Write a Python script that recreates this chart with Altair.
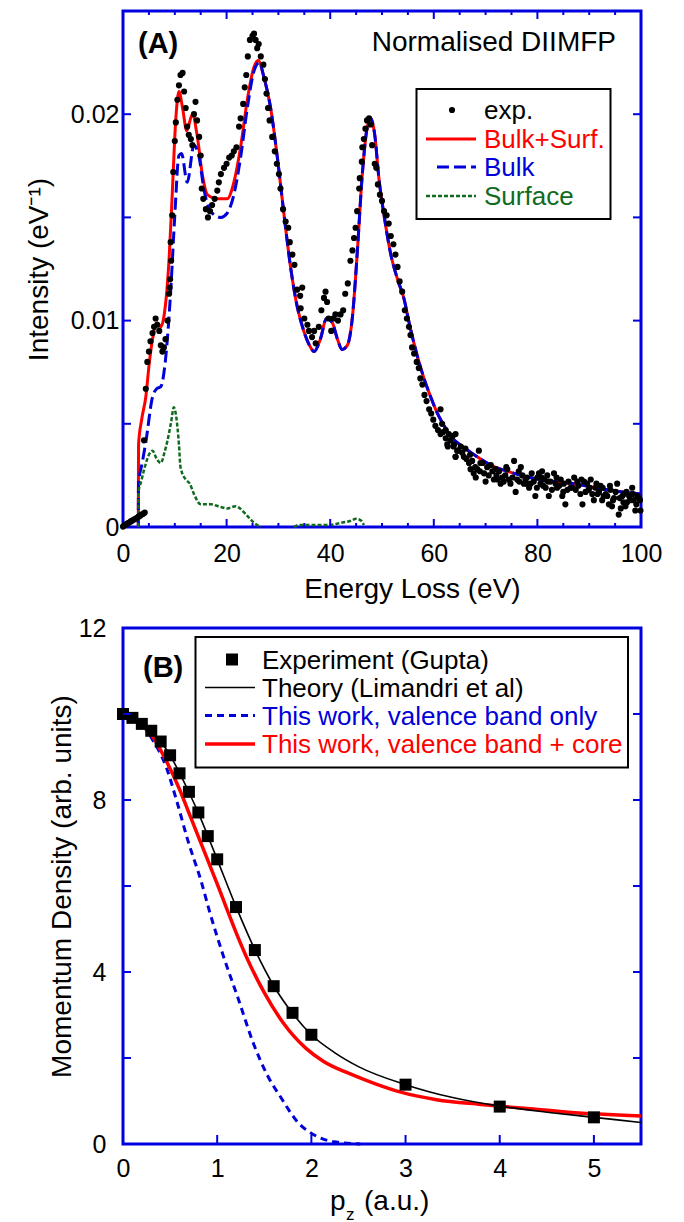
import altair as alt
import pandas as pd

# ================= Panel (A): normalised DIIMFP =================
# Bulk + Surface model (red)
bulk_surf_E = [2.95, 3.0, 3.6, 4.4, 5.1, 5.7, 6.6, 7.3, 7.9, 8.9, 9.5, 10.2, 10.8, 11.5, 12.3,
               13.4, 14.3, 15.3, 16.3, 18.2, 20.1, 21.4, 22.7, 24.0, 25.3, 26.1, 27.2, 28.5,
               29.8, 31.1, 32.4, 33.7, 34.9, 36.0, 36.9, 38.1, 39.3, 40.4, 41.4, 42.3, 43.3,
               44.3, 45.2, 46.2, 47.1, 47.8, 48.6, 49.4, 50.4, 51.7, 53.0, 54.2, 55.5, 56.8,
               58.1, 59.4, 60.7, 62.0, 63.2, 64.5, 67.8, 71.0, 74.2, 80.6, 87.1, 93.5, 100.0]
bulk_surf_I = [0.0, 0.0040, 0.0052, 0.0063, 0.0080, 0.0091, 0.0099, 0.0097, 0.0102, 0.0130,
               0.0161, 0.0198, 0.0211, 0.0203, 0.0192, 0.0200, 0.0190, 0.0171, 0.0161, 0.0159,
               0.0159, 0.0167, 0.0184, 0.0207, 0.0223, 0.0226, 0.0218, 0.0203, 0.0179, 0.0151,
               0.0125, 0.0106, 0.0095, 0.0088, 0.0085, 0.0091, 0.0101, 0.0099, 0.0091, 0.0086,
               0.0088, 0.0102, 0.0132, 0.0171, 0.0193, 0.0198, 0.0190, 0.0169, 0.0151, 0.0132,
               0.0120, 0.0111, 0.0096, 0.0083, 0.0072, 0.0063, 0.0055, 0.0049, 0.0044, 0.0041,
               0.0035, 0.0030, 0.0027, 0.0023, 0.0021, 0.0018, 0.0016]

# Bulk model (blue) below 27 eV; above it coincides with the red curve
bulk_head_E = [2.95, 3.0, 3.7, 4.4, 5.7, 6.5, 7.3, 8.2, 9.2, 10.0, 10.8, 11.3, 12.4, 13.7,
               14.7, 15.6, 16.9, 18.9, 20.1, 21.4, 22.7, 24.0, 25.3, 26.3]
bulk_head_I = [0.0, 0.0021, 0.0031, 0.0041, 0.0063, 0.0067, 0.0068, 0.0081, 0.0114, 0.0151,
               0.0180, 0.0181, 0.0167, 0.0185, 0.0179, 0.0164, 0.0153, 0.0150, 0.0152, 0.0161,
               0.0179, 0.0203, 0.0221, 0.0225]

# Surface model (green), two visible pieces
surface_E_1 = [2.95, 3.0, 3.5, 4.1, 5.0, 5.7, 6.5, 7.3, 8.0, 8.6, 9.3, 9.8, 10.3, 10.8, 11.1,
               12.1, 12.9, 13.7, 15.0, 16.9, 18.5, 20.1, 21.7, 22.6, 23.4, 24.5, 25.3, 26.6]
surface_I_1 = [0.0, 0.0017, 0.0022, 0.0028, 0.0035, 0.0037, 0.0033, 0.0031, 0.0036, 0.0042,
               0.0051, 0.0058, 0.0053, 0.0040, 0.0029, 0.0023, 0.0021, 0.0016, 0.0011, 0.0011,
               0.0010, 0.0009, 0.0010, 0.0009, 0.0007, 0.0004, 0.0002, 0.0]
surface_E_2 = [33.0, 34.0, 38.0, 40.0, 42.0, 44.0, 45.0, 46.0, 46.5]
surface_I_2 = [0.0, 0.0001, 0.0001, 0.0001, 0.0002, 0.0003, 0.0004, 0.0003, 0.0001]

# Experimental points (E, I)
exp_low = [(0.0, 0.00002), (0.3, 0.00008), (0.6, 0.00013), (0.9, 0.00018), (1.2, 0.00022),
           (1.5, 0.00027), (1.8, 0.00031), (2.1, 0.00036), (2.4, 0.00040), (2.7, 0.00045),
           (3.0, 0.00050), (3.3, 0.00055), (3.6, 0.00060), (3.9, 0.00064), (4.2, 0.00070)]
exp_first = [(4.05, 0.0042), (4.4, 0.0067), (4.7, 0.0080), (5.0, 0.0085), (5.3, 0.0090),
             (5.7, 0.0094), (6.0, 0.0097), (6.3, 0.0101), (6.6, 0.0098), (7.0, 0.0095),
             (7.3, 0.0088), (7.6, 0.0085), (7.9, 0.0087), (8.2, 0.0091), (8.6, 0.0100),
             (8.9, 0.0113), (9.0, 0.0116), (9.1, 0.0120), (9.2, 0.0138), (9.3, 0.0129),
             (9.5, 0.0151), (9.7, 0.0172), (10.0, 0.0187), (10.2, 0.0196), (10.5, 0.0207),
             (10.8, 0.0214), (11.1, 0.0219), (11.5, 0.0220), (11.8, 0.0211), (12.1, 0.0203),
             (12.4, 0.0194), (12.7, 0.0190), (13.1, 0.0188), (13.4, 0.0185), (13.7, 0.0200),
             (14.0, 0.0206), (14.3, 0.0197), (14.7, 0.0189), (15.0, 0.0180), (15.2, 0.0164),
             (15.5, 0.0159), (16.0, 0.0154), (16.4, 0.0150), (16.8, 0.0153), (17.2, 0.0156),
             (17.7, 0.0159), (18.2, 0.0163), (18.5, 0.0167), (18.9, 0.0171), (19.5, 0.0174),
             (20.0, 0.0176), (20.5, 0.0179), (21.0, 0.0180), (21.4, 0.0182), (21.9, 0.0184),
             (22.4, 0.0194), (22.7, 0.0198), (23.2, 0.0205), (23.5, 0.0213), (23.8, 0.0219),
             (24.1, 0.0228), (24.5, 0.0236), (25.0, 0.0238), (25.3, 0.0239), (25.6, 0.0236),
             (25.9, 0.0232), (26.2, 0.0234), (26.6, 0.0228), (27.1, 0.0224), (27.4, 0.0217),
             (27.7, 0.0210), (28.0, 0.0203), (28.3, 0.0197), (28.8, 0.0189), (29.3, 0.0182),
             (29.7, 0.0176), (30.1, 0.0171), (30.4, 0.0164), (30.9, 0.0154), (31.4, 0.0148),
             (31.9, 0.0145), (32.2, 0.0138), (32.7, 0.0132), (33.1, 0.0127), (33.6, 0.0115),
             (34.2, 0.0112)]
exp_second = [(34.6, 0.0116), (34.3, 0.0106), (35.0, 0.0101), (35.6, 0.0098), (35.9, 0.0095),
              (36.5, 0.0092), (37.2, 0.0089), (36.9, 0.0095), (37.8, 0.0097), (38.3, 0.0105),
              (38.8, 0.0111), (39.1, 0.0114), (39.4, 0.0109), (39.7, 0.0101), (40.2, 0.0095),
              (40.6, 0.0101), (41.0, 0.0103), (41.5, 0.0100), (42.0, 0.0103), (42.5, 0.0105),
              (42.9, 0.0113), (43.4, 0.0118), (43.9, 0.0129), (44.3, 0.0134), (44.6, 0.0140),
              (44.9, 0.0145), (45.2, 0.0153), (45.6, 0.0164), (45.7, 0.0169), (46.1, 0.0177),
              (46.2, 0.0184), (46.5, 0.0188), (46.8, 0.0193), (47.1, 0.0197), (47.5, 0.0198),
              (47.8, 0.0195), (48.1, 0.0185), (48.6, 0.0176), (48.9, 0.0174), (49.2, 0.0166),
              (49.6, 0.0161), (50.0, 0.0158), (50.4, 0.0153), (50.9, 0.0151), (51.3, 0.0147),
              (51.7, 0.0141), (52.2, 0.0137), (52.6, 0.0132), (53.0, 0.0126), (53.4, 0.0119),
              (53.9, 0.0114), (54.4, 0.0105), (54.8, 0.0101), (55.2, 0.0097), (55.5, 0.0093),
              (55.8, 0.0087), (56.2, 0.0084), (56.7, 0.0080), (57.1, 0.0077), (57.4, 0.0072),
              (57.8, 0.0069), (58.2, 0.0064), (58.6, 0.0061), (59.1, 0.0057), (59.5, 0.0055),
              (59.9, 0.0052), (60.3, 0.0049), (60.8, 0.0047), (61.3, 0.0045), (61.8, 0.0046),
              (62.3, 0.0043), (62.7, 0.0039), (63.2, 0.0042), (63.8, 0.0039), (64.2, 0.0034),
              (64.7, 0.0037)]
exp_tail = [(61.3, 0.0057), (61.6, 0.0050), (62.3, 0.0047), (62.9, 0.0045), (63.6, 0.0044),
            (64.2, 0.0045), (62.6, 0.0040), (63.9, 0.0040), (64.5, 0.0037), (64.2, 0.0034),
            (65.2, 0.0039), (65.5, 0.0036), (65.8, 0.0034), (66.1, 0.0038), (66.8, 0.0031),
            (67.1, 0.0028), (67.4, 0.0032), (67.7, 0.0026), (68.1, 0.0024), (68.4, 0.0028),
            (68.7, 0.0037), (69.0, 0.0031), (69.7, 0.0026), (70.0, 0.0022), (70.3, 0.0029),
            (71.0, 0.0030), (71.3, 0.0027), (71.6, 0.0023), (72.3, 0.0023), (72.6, 0.0027),
            (72.9, 0.0021), (73.2, 0.0024), (73.5, 0.0022), (74.2, 0.0028), (74.5, 0.0023),
            (74.8, 0.0021), (75.5, 0.0032), (75.8, 0.0017), (76.1, 0.0023), (76.8, 0.0029),
            (77.1, 0.0025), (77.4, 0.0021), (77.7, 0.0023), (78.0, 0.0024), (78.4, 0.0019),
            (78.7, 0.0021), (79.3, 0.0022), (79.6, 0.0015), (80.0, 0.0024), (80.3, 0.0026),
            (80.6, 0.0021), (80.9, 0.0027), (81.3, 0.0023), (81.6, 0.0019), (81.9, 0.0025),
            (82.2, 0.0015), (82.5, 0.0022), (83.2, 0.0026), (83.5, 0.0021), (83.8, 0.0019),
            (84.5, 0.0023), (84.8, 0.0015), (85.1, 0.0021), (85.4, 0.0011), (85.8, 0.0018),
            (86.4, 0.0019), (87.1, 0.0024), (87.4, 0.0018), (87.7, 0.0022), (88.3, 0.0016),
            (88.7, 0.0011), (89.0, 0.0022), (89.6, 0.0021), (89.9, 0.0018), (90.3, 0.0023),
            (90.9, 0.0013), (91.2, 0.0019), (91.6, 0.0016), (92.2, 0.0020), (92.5, 0.0013),
            (92.8, 0.0015), (93.5, 0.0015), (93.8, 0.0011), (94.1, 0.0018), (94.4, 0.0010),
            (94.8, 0.0014), (95.4, 0.0021), (95.7, 0.0006), (96.1, 0.0009), (96.4, 0.0015),
            (96.7, 0.0016), (97.0, 0.0010), (97.3, 0.0012), (97.7, 0.0015), (98.3, 0.0019),
            (98.6, 0.0013), (98.9, 0.0008), (99.3, 0.0015), (99.6, 0.0014),
            (66.3, 0.0033), (67.0, 0.0035), (68.0, 0.0029), (68.9, 0.0027), (69.4, 0.0031),
            (70.6, 0.0025), (71.9, 0.0028), (72.1, 0.0025), (73.8, 0.0025), (74.0, 0.0029),
            (75.2, 0.0024), (76.4, 0.0027), (76.5, 0.0022), (77.9, 0.0021), (78.9, 0.0026),
            (79.9, 0.0019), (80.8, 0.0024), (81.1, 0.0020), (82.0, 0.0022), (82.8, 0.0018),
            (83.7, 0.0024), (84.2, 0.0020), (85.0, 0.0017), (86.0, 0.0022), (86.8, 0.0019),
            (87.9, 0.0020), (88.5, 0.0023), (89.3, 0.0017), (90.1, 0.0019), (90.6, 0.0016),
            (91.4, 0.0021), (91.9, 0.0017), (92.6, 0.0019), (93.2, 0.0016), (94.0, 0.0020),
            (94.6, 0.0013), (95.1, 0.0017), (95.9, 0.0014), (96.6, 0.0012), (97.2, 0.0017),
            (97.9, 0.0013), (98.4, 0.0016), (99.1, 0.0011), (99.8, 0.0013), (99.9, 0.0008)]

a_xtick_minor = [5, 10, 15, 25, 30, 35, 45, 50, 55, 65, 70, 75, 85, 90, 95]
a_xtick_major = [20, 40, 60, 80]
a_ytick = [0.005, 0.01, 0.015, 0.02]
a_xlabels = [0, 20, 40, 60, 80, 100]
a_ylabels = [0, 0.01, 0.02]
a_legend = ["exp.", "Bulk+Surf.", "Bulk", "Surface"]

# ================= Panel (B): momentum density =================
exp_p = [0.0, 0.1, 0.2, 0.3, 0.4, 0.5, 0.6, 0.7, 0.8, 0.9, 1.0, 1.2, 1.4, 1.6, 1.8, 2.0, 3.0, 4.0, 5.0]
exp_d = [10.0, 9.91, 9.77, 9.61, 9.36, 9.04, 8.62, 8.19, 7.71, 7.16, 6.62, 5.51, 4.51, 3.67,
         3.05, 2.54, 1.38, 0.87, 0.62]
theory_p = [0.0, 0.1, 0.2, 0.3, 0.4, 0.5, 0.6, 0.7, 0.8, 0.9, 1.0, 1.2, 1.4, 1.6, 1.8, 2.0,
            2.25, 2.5, 3.0, 3.5, 4.0, 4.5, 5.0, 5.5]
theory_d = [10.0, 9.92, 9.78, 9.6, 9.36, 9.04, 8.63, 8.18, 7.7, 7.17, 6.62, 5.52, 4.52, 3.68,
            3.04, 2.54, 2.12, 1.8, 1.38, 1.08, 0.88, 0.74, 0.62, 0.5]
valence_p = [0.0, 0.1, 0.18, 0.32, 0.46, 0.57, 0.69, 0.83, 0.92, 1.06, 1.22, 1.39, 1.53, 1.68,
             1.85, 2.03, 2.24, 2.52]
valence_d = [10.0, 9.93, 9.81, 9.38, 8.76, 7.98, 7.05, 6.11, 5.4, 4.41, 3.4, 2.31, 1.61, 1.07,
             0.52, 0.21, 0.05, 0.0]
core_p = [0.0, 0.1, 0.2, 0.32, 0.45, 0.6, 0.7, 0.8, 0.9, 1.0, 1.1, 1.2, 1.3, 1.5, 1.7, 1.94,
          2.13, 2.40, 2.68, 2.96, 3.33, 3.80, 4.26, 4.73, 5.5]
core_d = [10.0, 9.9, 9.74, 9.46, 8.95, 8.25, 7.7, 7.15, 6.6, 6.05, 5.48, 4.92, 4.4, 3.52,
          2.82, 2.23, 1.92, 1.64, 1.40, 1.20, 1.03, 0.92, 0.83, 0.74, 0.65]

b_xtick = [1, 2, 3, 4, 5]
b_ytick = [2, 4, 6, 8, 10]
b_xlabels = [0, 1, 2, 3, 4, 5]
b_ylabels = [0, 4, 8, 12]
b_legend = ["Experiment (Gupta)", "Theory (Limandri et al)",
            "This work, valence band only", "This work, valence band + core"]

# ================= styling =================
FONT = "Liberation Sans"
FRAME = "#0000e0"
RED = "#ff0000"
BLUE = "#0000d8"
GREEN = "#116b1e"
W, H = 518, 516
LEG = 26

one = pd.DataFrame({"k": [0]})


def text(s, x, y, size=LEG, color="black", align="left", weight="normal", baseline="middle"):
    return alt.Chart(one).mark_text(text=s, font=FONT, fontSize=size, color=color, align=align,
                                    baseline=baseline, fontWeight=weight).encode(
        x=alt.value(x), y=alt.value(y))


def sample(x1, x2, y, color, width, dash=None):
    kw = dict(color=color, strokeWidth=width)
    if dash:
        kw["strokeDash"] = dash
    return alt.Chart(one).mark_rule(**kw).encode(x=alt.value(x1), x2=alt.value(x2), y=alt.value(y))


def box(x1, x2, y1, y2):
    return alt.Chart(one).mark_rect(fill="white", stroke="black", strokeWidth=2).encode(
        x=alt.value(x1), x2=alt.value(x2), y=alt.value(y1), y2=alt.value(y2))


def axis(values, expr, pad, title, **kw):
    return alt.Axis(values=values, labelExpr=expr, ticks=False, tickSize=0, domain=False, grid=False,
                    labelFont=FONT, labelFontSize=25, labelColor="black", labelPadding=pad,
                    labelFlush=False, title=title, titleFont=FONT, titleFontSize=28,
                    titleFontWeight="normal", titleColor="black", **kw)


def xticks(vals, enc, length, top=True):
    df = pd.DataFrame({"x": vals})
    layers = [alt.Chart(df).mark_rule(color=FRAME, strokeWidth=2).encode(
        x=enc, y=alt.value(H), y2=alt.value(H - length))]
    if top:
        layers.append(alt.Chart(df).mark_rule(color=FRAME, strokeWidth=2).encode(
            x=enc, y=alt.value(0), y2=alt.value(length)))
    return layers


def yticks(vals, enc, length):
    df = pd.DataFrame({"y": vals})
    return [alt.Chart(df).mark_rule(color=FRAME, strokeWidth=2).encode(
                y=enc, x=alt.value(0), x2=alt.value(length)),
            alt.Chart(df).mark_rule(color=FRAME, strokeWidth=2).encode(
                y=enc, x=alt.value(W), x2=alt.value(W - length))]


# ----------------- Panel A -----------------
xA = alt.X("x:Q", scale=alt.Scale(domain=[0, 100], nice=False, zero=False),
           axis=axis(a_xlabels, "format(datum.value, 'd')", 14, "Energy Loss (eV)",
                     titleX=289, titleY=70, titleBaseline="alphabetic"))
yA = alt.Y("y:Q", scale=alt.Scale(domain=[0, 0.025], nice=False, zero=False),
           axis=axis(a_ylabels, "datum.value == 0 ? '0' : format(datum.value, '.2f')", 4,
                     "Intensity (eV\u207b\u00b9)", titleX=-76, titleBaseline="alphabetic"))

red_df = pd.DataFrame({"x": bulk_surf_E, "y": bulk_surf_I})
tail_start = bulk_surf_E.index(27.2)
bulk_df = pd.DataFrame({"x": bulk_head_E + bulk_surf_E[tail_start:],
                        "y": bulk_head_I + bulk_surf_I[tail_start:]})
surf_df = pd.DataFrame({"x": surface_E_1 + surface_E_2, "y": surface_I_1 + surface_I_2,
                        "seg": [1] * len(surface_E_1) + [2] * len(surface_E_2)})
exp_all = exp_low + exp_first + exp_second + exp_tail
exp_df = pd.DataFrame({"x": [p[0] for p in exp_all], "y": [p[1] for p in exp_all]})

layersA = [
    alt.Chart(red_df).mark_line(color=RED, strokeWidth=3, interpolate="monotone").encode(x=xA, y=yA),
    alt.Chart(bulk_df).mark_line(color=BLUE, strokeWidth=3, strokeDash=[12, 5],
                                 interpolate="monotone").encode(x=xA, y=yA),
    alt.Chart(surf_df).mark_line(color=GREEN, strokeWidth=2.5, strokeDash=[4, 2],
                                 interpolate="monotone").encode(x=xA, y=yA, detail="seg:N"),
    alt.Chart(exp_df).mark_point(shape="circle", filled=True, size=38, color="black",
                                 opacity=1).encode(x=xA, y=yA),
]
layersA += xticks(a_xtick_minor, xA, 4) + xticks(a_xtick_major, xA, 8) + yticks(a_ytick, yA, 8)
layersA += [
    box(293.5, 487.5, 78, 208),
    alt.Chart(one).mark_point(shape="circle", filled=True, size=38, color="black", opacity=1).encode(
        x=alt.value(329), y=alt.value(99)),
    text(a_legend[0], 361, 100),
    sample(303, 353, 128, RED, 3),
    text(a_legend[1], 361, 129, color=RED),
    sample(314, 353, 156, BLUE, 3, [12, 5]),
    text(a_legend[2], 361, 157, color=BLUE),
    sample(303, 353, 185, GREEN, 2.5, [4, 2]),
    text(a_legend[3], 361, 186, color=GREEN),
    text("(A)", 15, 32.5, size=29, weight="bold"),
    text("Normalised DIIMFP", 493, 31.5, size=28, align="right"),
]
panelA = alt.layer(*layersA).properties(width=W, height=H)

# ----------------- Panel B -----------------
xB = alt.X("x:Q", scale=alt.Scale(domain=[0, 5.5], nice=False, zero=False),
           axis=axis(b_xlabels, "format(datum.value, 'd')", 12, ""))
yB = alt.Y("y:Q", scale=alt.Scale(domain=[0, 12], nice=False, zero=False),
           axis=axis(b_ylabels, "format(datum.value, 'd')", 17, "Momentum Density (arb. units)",
                     titleX=-53, titleBaseline="alphabetic"))

layersB = [
    alt.Chart(pd.DataFrame({"x": valence_p, "y": valence_d})).mark_line(
        color=BLUE, strokeWidth=3, strokeDash=[7, 5], interpolate="monotone").encode(x=xB, y=yB),
    alt.Chart(pd.DataFrame({"x": core_p, "y": core_d})).mark_line(
        color=RED, strokeWidth=3.5, interpolate="monotone").encode(x=xB, y=yB),
    alt.Chart(pd.DataFrame({"x": theory_p, "y": theory_d})).mark_line(
        color="black", strokeWidth=1.6, interpolate="monotone").encode(x=xB, y=yB),
    alt.Chart(pd.DataFrame({"x": exp_p, "y": exp_d})).mark_point(
        shape="square", filled=True, size=144, color="black", opacity=1).encode(x=xB, y=yB),
]
layersB += xticks(b_xtick, xB, 9, top=False) + yticks(b_ytick, yB, 8)
layersB += [
    box(72.5, 505, 9, 139.5),
    alt.Chart(one).mark_point(shape="square", filled=True, size=144, color="black", opacity=1).encode(
        x=alt.value(109), y=alt.value(31.5)),
    text(b_legend[0], 139, 32.5),
    sample(82, 132, 59.5, "black", 1.6),
    text(b_legend[1], 139, 60.5),
    sample(82, 132, 87.5, BLUE, 3, [7, 5]),
    text(b_legend[2], 139, 88.5, color=BLUE),
    sample(82, 132, 116, RED, 3.5),
    text(b_legend[3], 139, 117, color=RED),
    text("(B)", 20, 40, size=29, weight="bold"),
    text("p", 207, 582, size=28, baseline="alphabetic"),
    text("z", 223, 592, size=17, baseline="alphabetic"),
    text("(a.u.)", 241, 582, size=28, baseline="alphabetic"),
]
panelB = alt.layer(*layersB).properties(width=W, height=H)

chart = alt.vconcat(panelA, panelB, spacing=101, bounds="flush").properties(
    padding={"left": 15, "top": 0, "right": 0, "bottom": 0},
    background="white",
).configure_view(stroke=FRAME, strokeWidth=3)

chart.save("out.html", embed_options={"renderer": "svg", "actions": False})
